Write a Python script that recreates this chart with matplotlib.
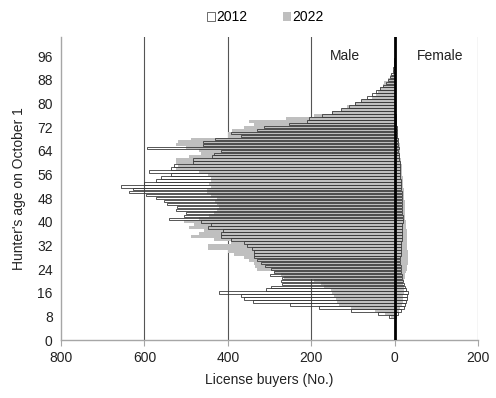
import matplotlib
matplotlib.use("Agg")
import matplotlib.pyplot as plt
from matplotlib.patches import Patch
from matplotlib.ticker import FuncFormatter, MultipleLocator
import numpy as np

plt.rcParams['font.family'] = ['Liberation Sans', 'DejaVu Sans']

ages = list(range(8, 96))

male_2012 = [14, 41, 105, 182, 252, 340, 360, 369, 422, 309, 297, 269, 272, 269, 300, 290,
             297, 310, 321, 330, 338, 338, 338, 342, 355, 362, 393, 417, 417, 412, 448, 440,
             465, 542, 506, 501, 525, 521, 545, 554, 572, 597, 638, 628, 657, 602, 573, 561,
             537, 590, 537, 530, 484, 484, 437, 434, 417, 594, 460, 460, 430, 369, 393, 330,
             314, 254, 209, 206, 175, 150, 128, 110, 95, 80, 66, 55, 45, 36, 28, 21,
             15, 11, 8, 5, 4, 2, 1, 1]

male_2022 = [8, 22, 46, 105, 134, 138, 140, 145, 149, 152, 170, 177, 194, 266, 273, 290,
             329, 335, 338, 350, 362, 386, 400, 448, 448, 393, 434, 489, 470, 458, 494, 480,
             506, 470, 445, 432, 425, 420, 425, 430, 425, 440, 450, 449, 440, 445, 441, 441,
             448, 470, 525, 520, 525, 525, 494, 465, 470, 500, 525, 520, 489, 400, 400, 390,
             362, 336, 349, 260, 194, 150, 125, 115, 95, 77, 53, 45, 41, 35, 28, 25,
             17, 10, 5, 3, 2, 1, 1, 0]

female_2012 = [3, 8, 15, 22, 25, 28, 30, 30, 32, 28, 25, 22, 20, 18, 17, 16,
               15, 15, 14, 14, 14, 15, 15, 15, 16, 16, 17, 17, 17, 18, 18, 18,
               19, 20, 19, 18, 18, 18, 18, 17, 17, 17, 17, 16, 16, 15, 15, 14,
               14, 13, 13, 12, 12, 11, 10, 10, 9, 10, 8, 8, 7, 6, 6, 5,
               5, 4, 4, 3, 3, 2, 2, 2, 1, 1, 1, 1, 1, 0, 0, 0,
               0, 0, 0, 0, 0, 0, 0, 0]

female_2022 = [2, 5, 10, 14, 17, 19, 20, 20, 22, 22, 22, 21, 22, 24, 26, 27,
               29, 30, 31, 32, 32, 33, 32, 30, 30, 29, 30, 30, 29, 30, 28, 28,
               27, 26, 25, 26, 25, 24, 24, 24, 23, 22, 22, 22, 21, 20, 20, 19,
               18, 18, 17, 17, 16, 15, 14, 14, 13, 14, 12, 11, 10, 9, 8, 7,
               6, 6, 5, 4, 4, 3, 3, 2, 2, 2, 1, 1, 1, 1, 0, 0,
               0, 0, 0, 0, 0, 0, 0, 0]

y_ticks = list(range(0, 97, 8))
x_ticks = [-800, -600, -400, -200, 0, 200]

fig = plt.figure(figsize=(4.96, 3.98), dpi=100)
ax = fig.add_axes([61/496, 1-340/398, (478-61)/496, (340-37)/398])

ages_a = np.array(ages)
grey = '#bfbfbf'
edge = '#3a3a3a'

ax.barh(ages_a, -np.array(male_2022), height=1.0, color=grey, linewidth=0, zorder=2)
ax.barh(ages_a, np.array(female_2022), height=1.0, color=grey, linewidth=0, zorder=2)
ax.barh(ages_a, -np.array(male_2012), height=0.85, facecolor='none', edgecolor=edge,
        linewidth=0.6, zorder=3)
ax.barh(ages_a, np.array(female_2012), height=0.85, facecolor='none', edgecolor=edge,
        linewidth=0.6, zorder=3)

ax.set_xlim(-800, 200)
ax.set_ylim(0, 102.5)
ax.set_xticks(x_ticks)
ax.xaxis.set_major_formatter(FuncFormatter(lambda v, p: f"{abs(int(v))}"))
ax.set_yticks(y_ticks)

for xv in [-600, -400, -200, 200]:
    ax.axvline(xv, color='#555555', linewidth=0.8, zorder=1)
ax.axvline(0, color='black', linewidth=2.0, zorder=4)

for s in ['top', 'right']:
    ax.spines[s].set_visible(False)
ax.spines['left'].set_color('#a6a6a6')
ax.spines['bottom'].set_color('#a6a6a6')
ax.spines['left'].set_linewidth(1.0)
ax.spines['bottom'].set_linewidth(1.0)

ax.tick_params(axis='x', length=4, color='#a6a6a6', labelsize=10, pad=4, labelcolor='#222222')
ax.tick_params(axis='y', length=0, labelsize=10, pad=6, labelcolor='#222222')

ax.set_xlabel('License buyers (No.)', fontsize=10, color='#222222', labelpad=6)
ax.set_ylabel("Hunter's age on October 1", fontsize=10, color='#222222', labelpad=8)

ax.text(-120, 96, 'Male', ha='center', va='center', fontsize=10, color='#222222')
ax.text(110, 96, 'Female', ha='center', va='center', fontsize=10, color='#222222')

handles = [Patch(facecolor='white', edgecolor='#555555', linewidth=0.6),
           Patch(facecolor=grey, edgecolor='none')]
fig.legend(handles, ['2012', '2022'], loc='center', bbox_to_anchor=(0.535, 1-17/398),
           ncol=2, frameon=False, fontsize=10, handlelength=0.6, handleheight=0.6,
           handletextpad=0.1, columnspacing=2.5)

fig.savefig('out.png', dpi=100)
